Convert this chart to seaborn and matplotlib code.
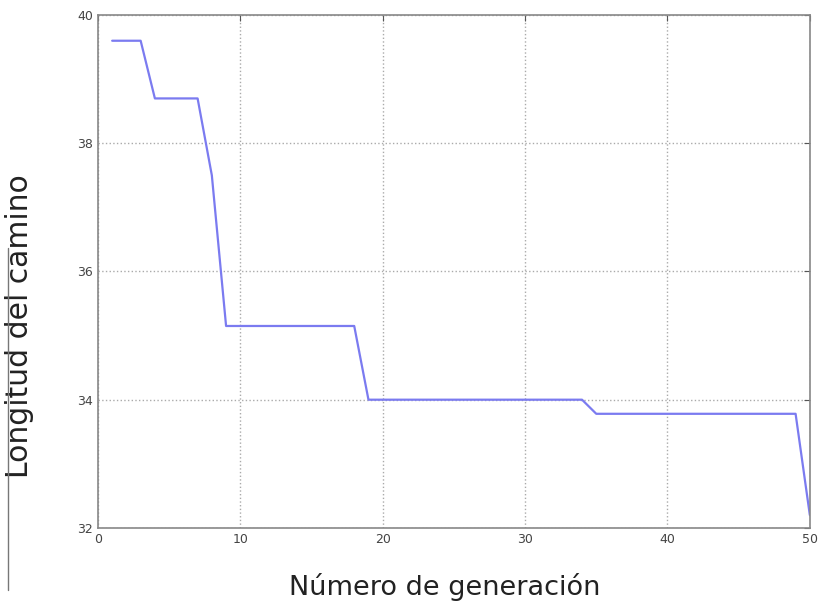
import matplotlib
matplotlib.use("Agg")
import matplotlib.pyplot as plt
import seaborn as sns
import pandas as pd
from matplotlib.lines import Line2D

# Best path length per generation
generaciones = list(range(1, 51))
longitudes = [39.6, 39.6, 39.6, 38.7, 38.7, 38.7, 38.7, 37.5, 35.15, 35.15,
              35.15, 35.15, 35.15, 35.15, 35.15, 35.15, 35.15, 35.15, 34.0, 34.0,
              34.0, 34.0, 34.0, 34.0, 34.0, 34.0, 34.0, 34.0, 34.0, 34.0,
              34.0, 34.0, 34.0, 34.0, 33.78, 33.78, 33.78, 33.78, 33.78, 33.78,
              33.78, 33.78, 33.78, 33.78, 33.78, 33.78, 33.78, 33.78, 33.78, 32.2]
xticks = [0, 10, 20, 30, 40, 50]
yticks = [32, 34, 36, 38, 40]

df = pd.DataFrame({"generacion": generaciones, "longitud": longitudes})

sns.set_style("white")
plt.rcParams["font.family"] = ["DejaVu Sans"]

fig = plt.figure(figsize=(8.23, 6.04), dpi=100)
ax = fig.add_axes([0.119, 0.126, 0.865, 0.849])

sns.lineplot(data=df, x="generacion", y="longitud", ax=ax,
             color="#7b7bf0", linewidth=1.6)

ax.set_xlim(0, 50)
ax.set_ylim(32, 40)
ax.set_xticks(xticks)
ax.set_yticks(yticks)
ax.grid(True, linestyle=":", color="#aaaaaa", linewidth=1.0)
ax.tick_params(direction="in", length=4, color="#555555",
               labelsize=9, labelcolor="#444444", top=True, right=True)
for s in ax.spines.values():
    s.set_color("#888888")
    s.set_linewidth(1.2)

ax.set_xlabel("Número de generación", fontsize=19.5, color="#222222")
ax.xaxis.set_label_coords(0.487, -0.088)
ax.set_ylabel("Longitud del camino", fontsize=21.5, color="#222222")
ax.yaxis.set_label_coords(-0.09, 0.394)

# thin stray border line at the far left of the original image
fig.add_artist(Line2D([0.01, 0.01], [0.023, 0.589], transform=fig.transFigure,
                      color="#777777", linewidth=1.0))

fig.savefig("out.png", dpi=100)
